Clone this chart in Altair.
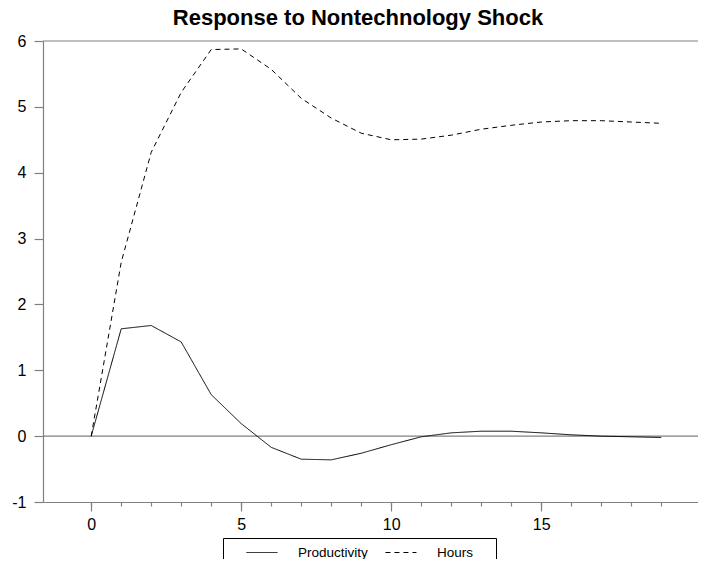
import altair as alt
import pandas as pd

# ---- data ----
periods = list(range(20))
productivity = [0.0, 1.63, 1.68, 1.43, 0.63, 0.19, -0.17, -0.35, -0.36, -0.26,
                -0.13, -0.01, 0.05, 0.075, 0.075, 0.05, 0.02, 0.0, -0.01, -0.02]
hours = [0.0, 2.64, 4.31, 5.22, 5.87, 5.88, 5.57, 5.13, 4.83, 4.60,
         4.50, 4.51, 4.57, 4.66, 4.72, 4.77, 4.79, 4.79, 4.77, 4.75]
series_names = ["Productivity", "Hours"]
x_major = [0, 5, 10, 15]
x_minor = list(range(20))
y_ticks = list(range(-1, 7))
zero_line = [0]
top_line = [6]

df = pd.DataFrame({
    "period": periods * 2,
    "value": productivity + hours,
    "series": [series_names[0]] * len(periods) + [series_names[1]] * len(periods),
})

GRAY = "#808080"
FONT = "Liberation Sans"
xscale = alt.Scale(domain=[-1.607, 20.226], nice=False, zero=False)
yscale = alt.Scale(domain=[-1, 6], nice=False, zero=False)

legend = alt.Legend(
    orient="none", legendX=180, legendY=497, direction="horizontal",
    title=" ", titleOrient="right", titlePadding=17, titleFontSize=1,
    strokeColor="black", fillColor="white", padding=6, symbolOffset=24.45,
    symbolType="M-2,0H2", symbolSize=240.25, symbolStrokeWidth=1,
    symbolStrokeColor="black", labelFont=FONT, labelFontSize=13.5,
    labelColor="black", labelOffset=27.45, columnPadding=-6,
)

lines = alt.Chart(df).mark_line(color="black", strokeWidth=1).encode(
    x=alt.X("period:Q", scale=xscale,
            axis=alt.Axis(values=x_major, tickSize=9, labelPadding=5, orient="bottom",
                          title=None)),
    y=alt.Y("value:Q", scale=yscale,
            axis=alt.Axis(values=y_ticks, labelExpr="'' + datum.value", tickSize=9,
                          labelPadding=8, title=None)),
    strokeDash=alt.StrokeDash(
        "series:N",
        scale=alt.Scale(domain=series_names, range=[[1, 0], [5, 4]]),
        legend=legend,
    ),
)

zero = alt.Chart(pd.DataFrame({"z": zero_line})).mark_rule(
    color=GRAY, strokeWidth=1.2
).encode(y=alt.Y("z:Q", scale=yscale))

top = alt.Chart(pd.DataFrame({"z": top_line})).mark_rule(
    color=GRAY, strokeWidth=1.2
).encode(y=alt.Y("z:Q", scale=yscale))

minor = alt.Chart(pd.DataFrame({"t": x_minor})).mark_point(opacity=0).encode(
    x=alt.X("t:Q", scale=xscale,
            axis=alt.Axis(values=x_minor, tickSize=4, labels=False, domain=False,
                          orient="bottom", title=None)),
)

chart = alt.layer(zero, top, minor, lines).resolve_axis(x="independent").properties(
    width=655,
    height=461,
    autosize=alt.AutoSizeParams(type="none"),
    padding={"left": 35, "top": 33, "right": 0, "bottom": 57},
    title=alt.TitleParams("Response to Nontechnology Shock", font=FONT, fontSize=22,
                          fontWeight="bold", anchor="middle", dx=-12.5, offset=3,
                          color="black"),
).configure_view(stroke=None).configure_axis(
    labelFont=FONT, labelFontSize=16, labelColor="black", domainColor=GRAY,
    domainWidth=1.2, tickColor=GRAY, tickWidth=1.2, grid=False,
)

chart.save("out.html", embed_options={"renderer": "svg", "actions": False})
